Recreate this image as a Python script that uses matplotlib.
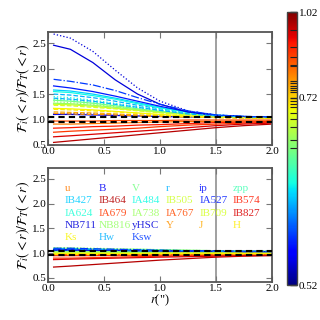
import numpy as np
import matplotlib
matplotlib.use('Agg')
import matplotlib.pyplot as plt
from matplotlib.colors import FuncNorm

plt.rcParams['font.family'] = ['Liberation Serif', 'DejaVu Serif']
plt.rcParams['mathtext.fontset'] = 'stix'

r_pts = [0.05, 0.2, 0.4, 0.6, 0.8, 1.0, 1.25, 1.5, 1.75, 2.0]

bands = ['u', 'B', 'V', 'r', 'ip', 'zpp',
         'IB427', 'IB464', 'IA484', 'IB505', 'IA527', 'IB574',
         'IA624', 'IA679', 'IA738', 'IA767', 'IB709', 'IB827',
         'NB711', 'NB816', 'yHSC', 'Y', 'J', 'H',
         'Ks', 'Hw', 'Ksw']

# colour value of each band (colorbar units)
band_val = [0.793, 0.522, 0.608, 0.546, 0.524, 0.585,
            0.553, 0.961, 0.565, 0.664, 0.525, 0.886,
            0.570, 0.856, 0.630, 0.837, 0.668, 0.928,
            0.521, 0.625, 0.521, 0.768, 0.752, 0.701,
            0.694, 0.546, 0.528]

band_ls = ['-', '-', '-', '--', ':', ':',
           '-', '-', '-', '-', '-', '-',
           ':', '-', '-', '-', '--', '-',
           '-', ':', ':', '--', '--', '--',
           '-', '--', '-.']

# upper panel: F_i(<r)/F_T(<r)
top_ratio = [
    [0.91, 0.91, 0.92, 0.93, 0.94, 0.95, 0.96, 0.96, 0.97, 0.97],  # u
    [1.10, 1.10, 1.09, 1.08, 1.07, 1.06, 1.05, 1.05, 1.04, 1.04],  # B
    [1.38, 1.36, 1.32, 1.27, 1.21, 1.16, 1.11, 1.07, 1.05, 1.04],  # V
    [1.50, 1.48, 1.43, 1.36, 1.28, 1.21, 1.13, 1.08, 1.05, 1.04],  # r
    [1.12, 1.12, 1.11, 1.10, 1.08, 1.07, 1.06, 1.05, 1.04, 1.04],  # ip
    [1.40, 1.38, 1.34, 1.29, 1.23, 1.17, 1.11, 1.07, 1.05, 1.04],  # zpp
    [1.58, 1.56, 1.50, 1.42, 1.33, 1.24, 1.15, 1.09, 1.06, 1.05],  # IB427
    [0.55, 0.58, 0.62, 0.66, 0.70, 0.74, 0.79, 0.84, 0.88, 0.91],  # IB464
    [1.55, 1.53, 1.47, 1.40, 1.31, 1.23, 1.14, 1.08, 1.05, 1.04],  # IA484
    [1.30, 1.29, 1.26, 1.22, 1.18, 1.14, 1.10, 1.06, 1.04, 1.03],  # IB505
    [1.66, 1.62, 1.55, 1.46, 1.36, 1.26, 1.15, 1.08, 1.05, 1.04],  # IA527
    [0.83, 0.84, 0.86, 0.87, 0.89, 0.90, 0.92, 0.94, 0.95, 0.96],  # IB574
    [1.45, 1.43, 1.38, 1.32, 1.25, 1.19, 1.12, 1.07, 1.05, 1.04],  # IA624
    [0.75, 0.77, 0.79, 0.81, 0.83, 0.86, 0.89, 0.91, 0.93, 0.95],  # IA679
    [1.32, 1.31, 1.28, 1.24, 1.19, 1.15, 1.10, 1.06, 1.04, 1.03],  # IA738
    [0.97, 0.97, 0.97, 0.98, 0.98, 0.98, 0.99, 0.99, 0.99, 0.99],  # IA767
    [1.28, 1.27, 1.24, 1.21, 1.17, 1.13, 1.09, 1.06, 1.04, 1.03],  # IB709
    [0.66, 0.68, 0.71, 0.74, 0.77, 0.80, 0.84, 0.88, 0.91, 0.93],  # IB827
    [2.46, 2.38, 2.12, 1.78, 1.50, 1.30, 1.15, 1.08, 1.06, 1.05],  # NB711
    [1.35, 1.33, 1.30, 1.25, 1.20, 1.15, 1.10, 1.07, 1.05, 1.04],  # NB816
    [2.68, 2.60, 2.34, 1.97, 1.62, 1.36, 1.17, 1.09, 1.06, 1.05],  # yHSC
    [1.12, 1.11, 1.10, 1.09, 1.07, 1.06, 1.05, 1.04, 1.03, 1.03],  # Y
    [1.15, 1.14, 1.13, 1.11, 1.09, 1.07, 1.05, 1.04, 1.03, 1.03],  # J
    [1.20, 1.19, 1.17, 1.15, 1.12, 1.09, 1.06, 1.04, 1.03, 1.03],  # H
    [1.22, 1.21, 1.19, 1.16, 1.13, 1.10, 1.07, 1.05, 1.04, 1.03],  # Ks
    [1.42, 1.40, 1.36, 1.30, 1.24, 1.18, 1.11, 1.07, 1.05, 1.04],  # Hw
    [1.79, 1.75, 1.68, 1.57, 1.43, 1.30, 1.17, 1.09, 1.06, 1.05],  # Ksw
]

# lower panel: same ratio after matching
bot_ratio = [
    [0.96, 0.96, 0.96, 0.97, 0.97, 0.97, 0.98, 0.98, 0.98, 0.98],  # u
    [1.05, 1.05, 1.05, 1.04, 1.04, 1.04, 1.03, 1.03, 1.03, 1.03],  # B
    [1.10, 1.10, 1.09, 1.08, 1.08, 1.07, 1.06, 1.05, 1.05, 1.04],  # V
    [1.08, 1.08, 1.07, 1.06, 1.06, 1.05, 1.04, 1.04, 1.03, 1.03],  # r
    [1.04, 1.04, 1.04, 1.03, 1.03, 1.03, 1.03, 1.02, 1.02, 1.02],  # ip
    [1.07, 1.07, 1.06, 1.06, 1.05, 1.05, 1.04, 1.04, 1.03, 1.03],  # zpp
    [1.06, 1.06, 1.05, 1.05, 1.04, 1.04, 1.03, 1.03, 1.02, 1.02],  # IB427
    [0.72, 0.74, 0.77, 0.80, 0.83, 0.86, 0.89, 0.92, 0.94, 0.95],  # IB464
    [1.05, 1.05, 1.04, 1.04, 1.04, 1.03, 1.03, 1.02, 1.02, 1.02],  # IA484
    [1.02, 1.02, 1.02, 1.02, 1.01, 1.01, 1.01, 1.01, 1.01, 1.01],  # IB505
    [1.06, 1.06, 1.05, 1.05, 1.05, 1.04, 1.04, 1.03, 1.03, 1.03],  # IA527
    [0.95, 0.95, 0.95, 0.96, 0.96, 0.96, 0.97, 0.97, 0.98, 0.98],  # IB574
    [1.04, 1.04, 1.04, 1.03, 1.03, 1.03, 1.02, 1.02, 1.02, 1.02],  # IA624
    [0.90, 0.90, 0.91, 0.92, 0.93, 0.94, 0.95, 0.96, 0.96, 0.97],  # IA679
    [1.03, 1.03, 1.03, 1.03, 1.02, 1.02, 1.02, 1.02, 1.02, 1.02],  # IA738
    [0.99, 0.99, 0.99, 0.99, 0.99, 0.99, 0.99, 0.99, 0.99, 0.99],  # IA767
    [1.01, 1.01, 1.01, 1.01, 1.01, 1.01, 1.01, 1.01, 1.01, 1.01],  # IB709
    [0.87, 0.88, 0.89, 0.90, 0.91, 0.92, 0.93, 0.94, 0.95, 0.96],  # IB827
    [1.07, 1.07, 1.06, 1.06, 1.05, 1.05, 1.04, 1.04, 1.03, 1.03],  # NB711
    [1.11, 1.11, 1.10, 1.09, 1.08, 1.07, 1.06, 1.05, 1.05, 1.04],  # NB816
    [1.08, 1.08, 1.07, 1.07, 1.06, 1.05, 1.05, 1.04, 1.03, 1.03],  # yHSC
    [0.97, 0.97, 0.97, 0.98, 0.98, 0.98, 0.98, 0.99, 0.99, 0.99],  # Y
    [0.99, 0.99, 0.99, 0.99, 0.99, 1.00, 1.00, 1.00, 1.00, 1.00],  # J
    [0.98, 0.98, 0.98, 0.98, 0.99, 0.99, 0.99, 0.99, 0.99, 0.99],  # H
    [1.00, 1.00, 1.00, 1.00, 1.00, 1.00, 1.00, 1.00, 1.00, 1.00],  # Ks
    [1.09, 1.09, 1.08, 1.07, 1.06, 1.06, 1.05, 1.04, 1.04, 1.03],  # Hw
    [1.10, 1.10, 1.09, 1.08, 1.07, 1.06, 1.05, 1.05, 1.04, 1.04],  # Ksw
]

ref_levels = [1.04, 0.96]
r_mark = 1.5

cbar_ticks = [0.52, 0.72, 1.02]
cbar_marks = [0.944, 0.880, 0.844, 0.816, 0.811, 0.766, 0.760, 0.753,
              0.747, 0.740, 0.735, 0.712, 0.705, 0.697, 0.682, 0.670,
              0.653, 0.627, 0.613]

vmin, vmax = 0.52, 1.02
pw = 0.41
norm = FuncNorm((lambda v: ((np.clip(v, vmin, vmax) - vmin) / (vmax - vmin)) ** pw,
                 lambda f: vmin + (vmax - vmin) * np.clip(f, 0, 1) ** (1 / pw)),
                vmin=vmin, vmax=vmax)
cmap = plt.get_cmap('jet')

fig = plt.figure(figsize=(3.2, 3.2), dpi=100)
ax1 = fig.add_axes([0.15, 0.547, 0.70, 0.353])
ax2 = fig.add_axes([0.15, 0.119, 0.70, 0.356])
cax = fig.add_axes([0.897, 0.109, 0.031, 0.853])

for ax, data, ylo in [(ax1, top_ratio, 0.5), (ax2, bot_ratio, 0.42)]:
    for i, b in enumerate(bands):
        ax.plot(r_pts, data[i], ls=band_ls[i], lw=0.9,
                color=cmap(norm(band_val[i])))
    for lev in ref_levels:
        ax.axhline(lev, color='k', ls='--', lw=1.5, dashes=(3, 2), zorder=5)
    ax.axvline(r_mark, color='#999999', lw=1.3, zorder=1)
    ax.set_xlim(0, 2.0)
    ax.set_ylim(ylo, 2.72)
    ax.set_xticks([0.0, 0.5, 1.0, 1.5, 2.0])
    ax.set_yticks([0.5, 1.0, 1.5, 2.0, 2.5])
    ax.tick_params(direction='in', top=True, right=True, length=4,
                   color='#777777', labelsize=8, pad=1.5)
    for s in ax.spines.values():
        s.set_color('#555555')
        s.set_linewidth(1.3)
    ax.set_ylabel(r'$\mathcal{F}_i(<r)/\mathcal{F}_T(<r)$', fontsize=10, labelpad=0)

ax2.set_xlabel(r'$r$(")', fontsize=9, labelpad=0)

# band names inside the lower panel
for i, b in enumerate(bands):
    row, col = divmod(i, 6)
    ax2.text(0.15 + 0.3 * col, 2.30 - 0.245 * row, b, fontsize=8,
             color=cmap(norm(band_val[i])), alpha=0.85, ha='left', va='center')

sm = plt.cm.ScalarMappable(norm=norm, cmap=cmap)
cb = fig.colorbar(sm, cax=cax)
cb.set_ticks(cbar_ticks, labels=['0.52', '0.72', '1.02'])
cb.set_ticks(cbar_marks, minor=True)
cax.tick_params(which='major', direction='in', length=5, width=1.0,
                color='#222222', labelsize=8, pad=1.5)
cax.tick_params(which='minor', direction='in', length=5, width=0.8,
                color='#222222')
cb.outline.set_edgecolor('#444444')
cb.outline.set_linewidth(1.0)

fig.savefig('out.png', dpi=100)
